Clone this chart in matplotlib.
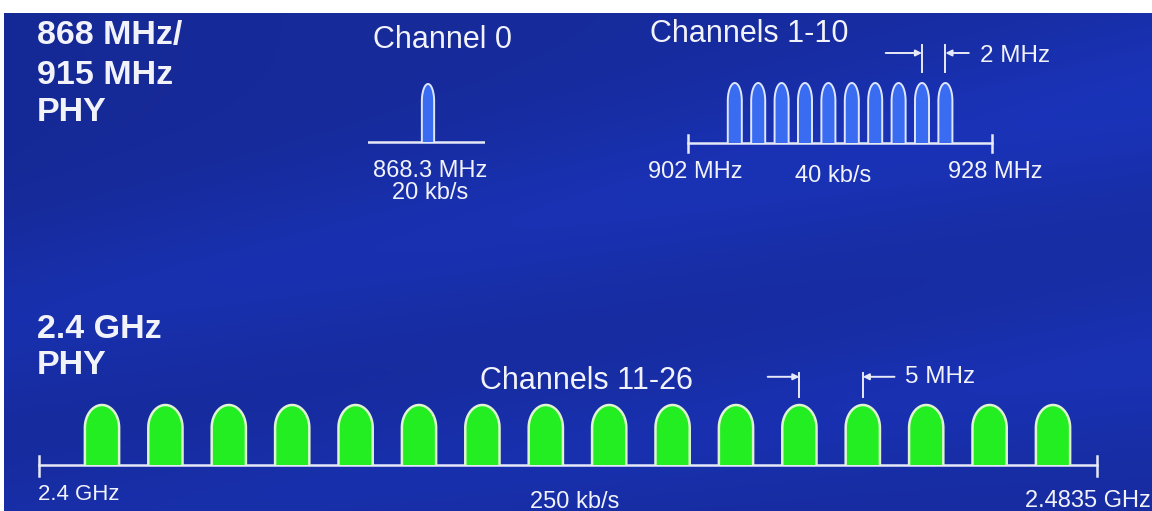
import numpy as np
import matplotlib
matplotlib.use("Agg")
import matplotlib.pyplot as plt
from matplotlib.patches import PathPatch
from matplotlib.path import Path

plt.rcParams['font.family'] = ['Liberation Sans', 'DejaVu Sans']

# ---- data (MHz) ----
ch0_freq = [868.3]
ch1_10_freq = [906, 908, 910, 912, 914, 916, 918, 920, 922, 924]
ch11_26_freq = [2405, 2410, 2415, 2420, 2425, 2430, 2435, 2440,
                2445, 2450, 2455, 2460, 2465, 2470, 2475, 2480]
band915_edges = [902, 928]
band24_edges = [2400, 2483.5]
spacing915 = [922, 924]      # marked pair, 2 MHz apart
spacing24 = [2460, 2465]     # marked pair, 5 MHz apart
band_labels = ['868.3 MHz', '902 MHz', '928 MHz', '2.4 GHz', '2.4835 GHz']
rates = ['20 kb/s', '40 kb/s', '250 kb/s']

W, H = 1152, 511
fig = plt.figure(figsize=(W / 100, H / 100), dpi=100, facecolor='white')

LINE = '#e6eaf8'
TXT = '#f2f3fa'


def px_axes(xl, xr, yt, yb):
    return fig.add_axes([xl / W, 1 - yb / H, (xr - xl) / W, (yb - yt) / H])


def band_axes(f_ref, px_ref, scale, xl, xr, yt, yb, base_px, top_px):
    ax = px_axes(xl, xr, yt, yb)
    ax.set_xlim(f_ref + (xl - px_ref) / scale, f_ref + (xr - px_ref) / scale)
    unit = base_px - top_px
    ax.set_ylim((base_px - yb) / unit, (base_px - yt) / unit)
    ax.axis('off')
    ax.patch.set_alpha(0)
    return ax


def bump(ax, c, w, cap, fc, ec, lw):
    t = np.linspace(np.pi, 0, 40)
    xs = np.concatenate([[c - w / 2], c + w / 2 * np.cos(t), [c + w / 2]])
    ys = np.concatenate([[0], (1 - cap) + cap * np.sin(t), [0]])
    verts = np.column_stack([xs, ys])
    ax.add_patch(PathPatch(Path(verts), facecolor=fc, edgecolor=ec, lw=lw,
                           joinstyle='round', zorder=3))


def ptext(x, y, s, **kw):
    fig.text(x / W, 1 - y / H, s, color=TXT, va='baseline', **kw)


# ---- background ----
bg = px_axes(0, W, 0, H)
bg.set_xlim(0, W)
bg.set_ylim(H, 0)
bg.axis('off')
yy, xx = np.mgrid[0:1:256j, 0:1:512j]
light = (0.10 * np.exp(-((yy - 0.62 + 0.45 * xx) / 0.18) ** 2)
         + 0.08 * np.exp(-((yy - 1.05 + 0.35 * xx) / 0.15) ** 2)
         + 0.05 * xx)
base = np.array([0.09, 0.17, 0.62])
img = np.clip(base[None, None, :] * (0.95 + 1.2 * light[..., None])
              + np.array([0.0, 0.02, 0.05]) * light[..., None] * 3, 0, 1)
bg.imshow(img, extent=[4, W, H, 13], aspect='auto', interpolation='bilinear')

# ---- 868 MHz band ----
axA = band_axes(868.3, 428, 11.7, 368, 485, 60, 160, 142, 84)
axA.axhline(0, color=LINE, lw=1.8, zorder=2)
for f in ch0_freq:
    bump(axA, f, 1.05, 0.3, '#3a6cf2', '#dfe7ff', 1.4)

# ---- 915 MHz band ----
axB = band_axes(902, 688, 11.7, 640, 1000, 40, 160, 143, 83)
axB.plot(band915_edges, [0, 0], color=LINE, lw=1.8, zorder=2)
for e in band915_edges:
    axB.plot([e, e], [-0.15, 0.13], color=LINE, lw=1.8)
for f in ch1_10_freq:
    bump(axB, f, 1.2, 0.3, '#3a6cf2', '#dfe7ff', 1.4)
for f in spacing915:
    axB.plot([f, f], [1.18, 1.63], color=LINE, lw=1.4)
axB.annotate('', xy=(spacing915[0], 1.5), xytext=(spacing915[0] - 3.1, 1.5),
             arrowprops=dict(arrowstyle='-|>', color=LINE, lw=1.4,
                             mutation_scale=9, shrinkA=0, shrinkB=0))
axB.annotate('', xy=(spacing915[1], 1.5), xytext=(spacing915[1] + 2.0, 1.5),
             arrowprops=dict(arrowstyle='-|>', color=LINE, lw=1.4,
                             mutation_scale=9, shrinkA=0, shrinkB=0))

# ---- 2.4 GHz band ----
axC = band_axes(2405, 102, 12.68, 10, 1120, 360, 480, 465, 405)
axC.plot(band24_edges, [0, 0], color=LINE, lw=1.8, zorder=2)
for e in band24_edges:
    axC.plot([e, e], [-0.18, 0.15], color=LINE, lw=1.8)
for f in ch11_26_freq:
    bump(axC, f, 2.7, 0.38, '#22ee22', '#dff5d0', 1.8)
for f in spacing24:
    axC.plot([f, f], [1.13, 1.53], color=LINE, lw=1.4)
axC.annotate('', xy=(spacing24[0], 1.47), xytext=(spacing24[0] - 2.5, 1.47),
             arrowprops=dict(arrowstyle='-|>', color=LINE, lw=1.4,
                             mutation_scale=9, shrinkA=0, shrinkB=0))
axC.annotate('', xy=(spacing24[1], 1.47), xytext=(spacing24[1] + 2.5, 1.47),
             arrowprops=dict(arrowstyle='-|>', color=LINE, lw=1.4,
                             mutation_scale=9, shrinkA=0, shrinkB=0))

# ---- text ----
bold = dict(fontsize=24.5, fontweight='bold')
ptext(37, 44, '868 MHz/', **bold)
ptext(37, 84, '915 MHz', **bold)
ptext(37, 121, 'PHY', **bold)
ptext(37, 338, '2.4 GHz', **bold)
ptext(37, 374, 'PHY', **bold)

ptext(373, 48, 'Channel 0', fontsize=22)
ptext(650, 42, 'Channels 1-10', fontsize=22)
ptext(480, 389, 'Channels 11-26', fontsize=22)
ptext(980, 62, '2 MHz', fontsize=17.5)
ptext(905, 383, '5 MHz', fontsize=17.5)

ptext(430, 177, band_labels[0], fontsize=17, ha='center')
ptext(430, 199, rates[0], fontsize=17, ha='center')
ptext(648, 178, band_labels[1], fontsize=17)
ptext(795, 182, rates[1], fontsize=17)
ptext(948, 178, band_labels[2], fontsize=17)
ptext(38, 500, band_labels[3], fontsize=16)
ptext(530, 508, rates[2], fontsize=17)
ptext(1025, 507, band_labels[4], fontsize=17)

fig.savefig('out.png', dpi=100, facecolor=fig.get_facecolor())
